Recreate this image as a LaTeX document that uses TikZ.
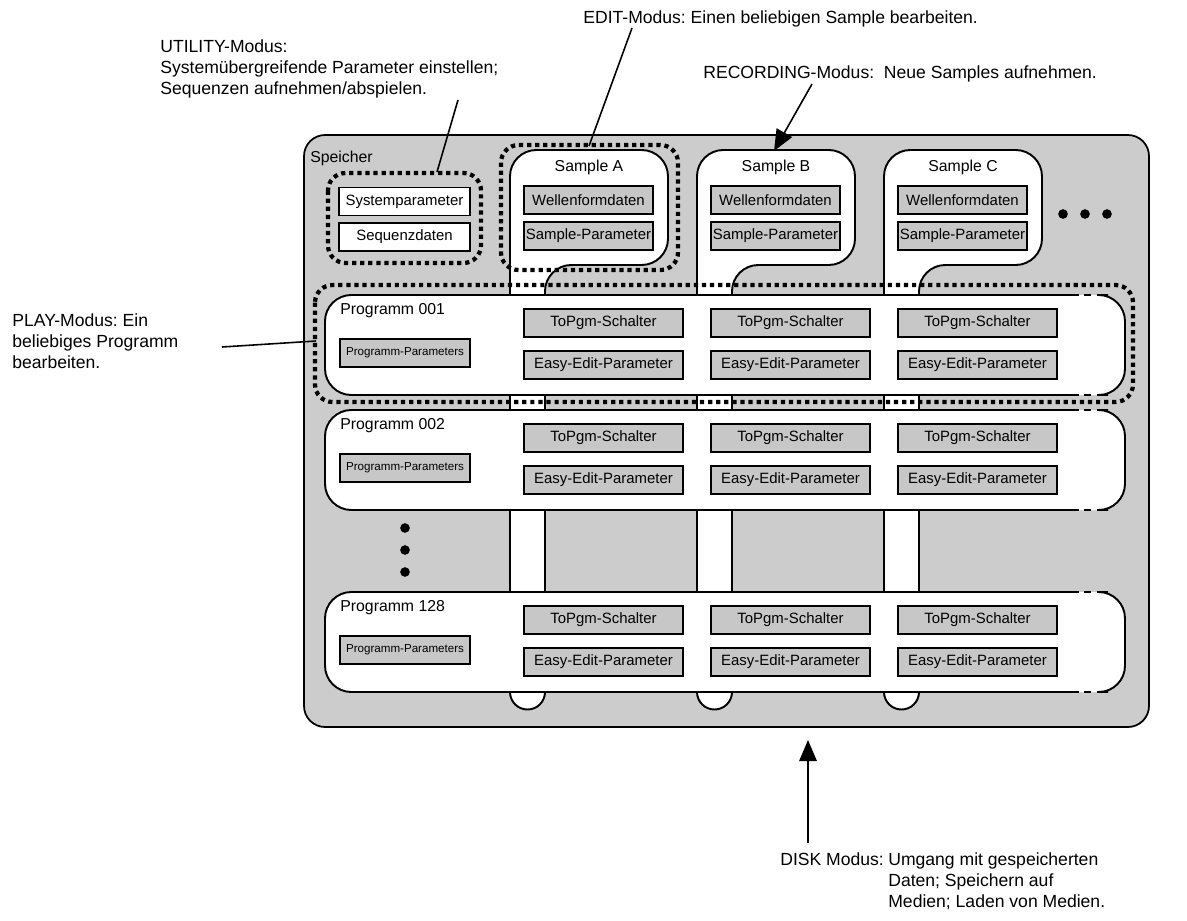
\documentclass[tikz,border=0pt]{standalone}
\usepackage{fontspec}
\setmainfont{Liberation Sans}
\usetikzlibrary{arrows.meta}
\frenchspacing
\definecolor{memgray}{gray}{0.80}
\definecolor{boxgray}{gray}{0.78}
\tikzset{
  frame/.style={draw, line width=1pt, fill=memgray, rounded corners=12},
  rowline/.style={line width=1.1pt},
  field/.style={rectangle, draw, line width=0.7pt, fill=boxgray, font=\fontsize{8.5}{10}\selectfont, inner sep=0pt, minimum height=0.56cm},
  whitefield/.style={field, fill=white},
  modebox/.style={line width=2.4pt, dash pattern=on 2.4pt off 2.2pt, rounded corners=10},
  note/.style={font=\fontsize{10}{12}\selectfont, align=left, anchor=north west, inner sep=0pt},
  title/.style={font=\fontsize{9}{10}\selectfont, inner sep=0pt},
  pointer/.style={line width=0.9pt},
  bigarrow/.style={line width=0.9pt, -{Triangle[length=12pt, width=10pt]}},
  blob/.style={circle, fill, inner sep=0pt, minimum size=5.5pt}
}

\begin{document}
\begin{tikzpicture}[x=0.02cm, y=-0.02cm]
\useasboundingbox (0,0) rectangle (1187,920);

% memory frame
\draw[frame] (304,135) rectangle (1149,727);
\node[title, anchor=west] (mem) at (310,158) {Speicher};

% sample strips running down through the programs
\foreach \i in {0,1,2} {
  \pgfmathsetmacro{\X}{510+187*\i}
  \draw[rowline, fill=white] (\X,290) -- (\X,692) arc[start angle=180, end angle=0, radius=17.5] -- (\X+35,290);
}

% samples
\foreach \i/\s in {0/A,1/B,2/C} {
  \pgfmathsetmacro{\X}{510+187*\i}
  \draw[rowline, fill=white, rounded corners=15] (\X,300) -- (\X,150) -- (\X+158,150) -- (\X+158,265) -- (\X+35,265) -- (\X+35,300);
  \node[title] (smp\s) at (\X+79,167) {Sample \s};
  \node[field, minimum width=2.58cm] (wave\s) at (\X+78.5,200) {Wellenformdaten};
  \node[field, minimum width=2.58cm] (spar\s) at (\X+78.5,236) {Sample-Parameter};
}
\node[blob] (hd1) at (1063,214) {};
\node[blob] (hd2) at (1085,214) {};
\node[blob] (hd3) at (1107,214) {};

% system data
\node[whitefield, minimum width=2.62cm, minimum height=0.56cm] (sys) at (404.5,201.5) {Systemparameter};
\node[whitefield, minimum width=2.62cm, minimum height=0.56cm] (seq) at (404.5,237) {Sequenzdaten};

% programs
\foreach \t/\n in {295/001,410/002,592/128} {
  \fill[white, rounded corners=15] (325,\t) rectangle (1125,\t+100);
  \draw[rowline, rounded corners=15] (1072,\t) -- (325,\t) -- (325,\t+100) -- (1072,\t+100);
  \draw[rowline, rounded corners=15] (1108,\t) -- (1125,\t) -- (1125,\t+100) -- (1108,\t+100);
  \draw[rowline, dash pattern=on 4pt off 3pt] (1072,\t) -- (1108,\t) (1072,\t+100) -- (1108,\t+100);
  \node[title, anchor=west] (pgm\n) at (340,\t+16) {Programm \n};
  \node[field, minimum width=2.6cm, font=\fontsize{6.6}{8}\selectfont] (ppar\n) at (405,\t+58) {Programm-Parameters};
  \foreach \i in {0,1,2} {
    \node[field, minimum width=3.18cm] (sw\n-\i) at (603.5+187*\i,\t+28) {ToPgm-Schalter};
    \node[field, minimum width=3.18cm] (ee\n-\i) at (603.5+187*\i,\t+70) {Easy-Edit-Parameter};
  }
}
\node[blob] (vd1) at (405,528) {};
\node[blob] (vd2) at (405,550) {};
\node[blob] (vd3) at (405,572) {};

% mode outlines
\draw[modebox] (328,173) rectangle (481,263);
\draw[modebox] (501,145) rectangle (678,270);
\draw[modebox] (315,285) rectangle (1133,402);

% notes
\node[note] (util) at (160,39) {UTILITY-Modus:\\Systemübergreifende Parameter einstellen;\\Sequenzen aufnehmen/abspielen.};
\node[note] (edit) at (583,10) {EDIT-Modus: Einen beliebigen Sample bearbeiten.};
\node[note] (rec) at (703,65) {RECORDING-Modus:\ \ Neue Samples aufnehmen.};
\node[note] (play) at (12,313) {PLAY-Modus: Ein\\beliebiges Programm\\bearbeiten.};
\node[note] (disk) at (780,852) {DISK Modus:};
\node[note] (disktxt) at (888,852) {Umgang mit gespeicherten\\Daten; Speichern auf\\Medien; Laden von Medien.};

\coordinate (utilA) at (458,100);
\coordinate (utilB) at (437,172);
\coordinate (editA) at (632,28);
\coordinate (editB) at (589,146);
\coordinate (recA) at (812,84);
\coordinate (recB) at (774,151);
\coordinate (playA) at (222,347);
\coordinate (playB) at (316,341);
\coordinate (diskA) at (808,843);
\coordinate (diskB) at (808,740);

\draw[pointer] (utilA) -- (utilB);
\draw[pointer] (editA) -- (editB);
\draw[bigarrow] (recA) -- (recB);
\draw[pointer] (playA) -- (playB);
\draw[bigarrow] (diskA) -- (diskB);
\end{tikzpicture}
\end{document}
